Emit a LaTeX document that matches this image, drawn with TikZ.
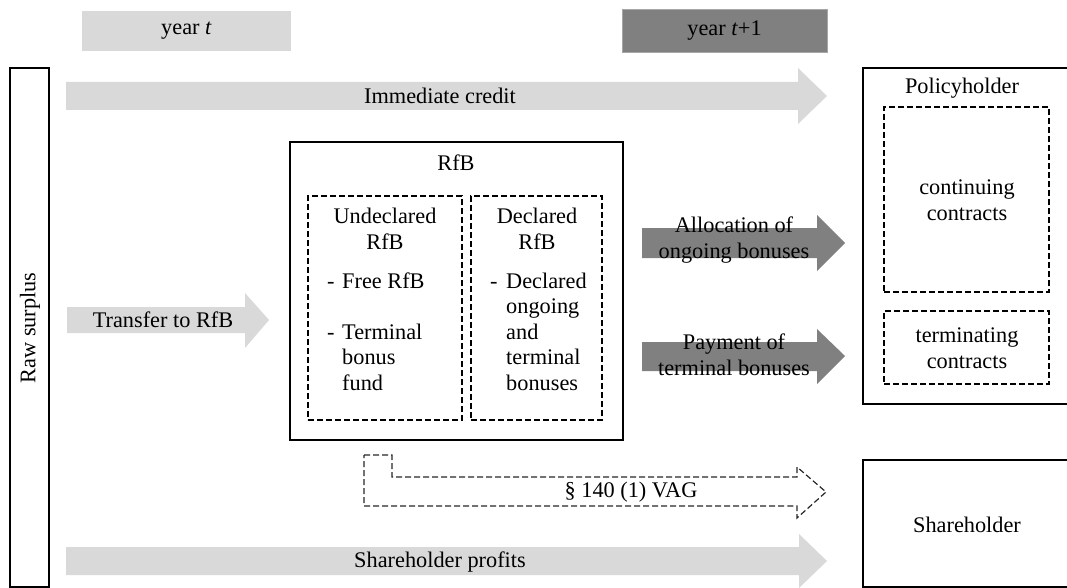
\documentclass[tikz,border=0pt]{standalone}
\usepackage{fontspec}
\setmainfont{Liberation Serif}
\definecolor{lgray}{HTML}{D9D9D9}
\definecolor{dgray}{HTML}{808080}
\begin{document}
\begin{tikzpicture}[x=1pt,y=-1pt,
  font=\fontsize{22.3}{25.5}\selectfont,
  txt/.style={inner sep=0pt, align=center},
  solidbox/.style={draw=black, line width=1.4pt, inner sep=0pt},
  dashbox/.style={draw=black, line width=1.2pt, dash pattern=on 6pt off 3pt, inner sep=0pt},
  lightarrow/.style={fill=lgray},
  darkarrow/.style={fill=dgray}]
\useasboundingbox (0,0) rectangle (1067,588);

% year labels
\node[fill=lgray, minimum width=209pt, minimum height=40pt, inner sep=0pt] (yt) at (186.5,31) {year \textit{t}};
\node[fill=dgray, draw=gray!70, line width=0.8pt, minimum width=205pt, minimum height=43pt, inner sep=0pt] (yt1) at (724.5,30.5) {year \textit{t}+1};

% raw surplus
\node[solidbox, minimum width=39pt, minimum height=519pt] (raw) at (29.5,327.5) {};
\node[txt, rotate=90] (rawlbl) at (30,328) {Raw surplus};

% block arrows
\fill[lightarrow] (66,82) -- (798,82) -- (798,68) -- (827,96) -- (798,124) -- (798,110) -- (66,110) -- cycle;
\node[txt] (imm) at (440,96) {Immediate credit};

\fill[lightarrow] (67,307) -- (245,307) -- (245,293) -- (269,320) -- (245,348) -- (245,333) -- (67,333) -- cycle;
\node[txt] (trans) at (163,320) {Transfer to RfB};

\fill[lightarrow] (66,547) -- (799,547) -- (799,534) -- (827,561) -- (799,588) -- (799,575) -- (66,575) -- cycle;
\node[txt] (shp) at (440,562) {Shareholder profits};

\fill[darkarrow] (642,228) -- (817,228) -- (817,215) -- (845,243) -- (817,271) -- (817,258) -- (642,258) -- cycle;
\node[txt] (alloc) at (734,240) {Allocation of\\ongoing bonuses};

\fill[darkarrow] (642,342) -- (817,342) -- (817,329) -- (845,356) -- (817,384) -- (817,371) -- (642,371) -- cycle;
\node[txt] (pay) at (734,355) {Payment of\\terminal bonuses};

% RfB box
\node[solidbox, minimum width=333pt, minimum height=298pt] (rfb) at (456.5,291) {};
\node[txt] (rfbt) at (456,163) {RfB};
\node[dashbox, minimum width=154pt, minimum height=224pt] (und) at (385,308) {};
\node[dashbox, minimum width=131pt, minimum height=224pt] (dec) at (536.5,308) {};
\node[txt] (undt) at (385,229) {Undeclared\\RfB};
\node[txt] (dect) at (537,229) {Declared\\RfB};
\node[inner sep=0pt, anchor=base west] (undl) at (327,288)
  {\begin{tabular}[t]{@{}l@{\hspace{7.6pt}}l@{}}-&Free RfB\\ &\\-&Terminal\\&bonus\\&fund\end{tabular}};
\node[inner sep=0pt, anchor=base west] (decl) at (490,288)
  {\begin{tabular}[t]{@{}l@{\hspace{8.6pt}}l@{}}-&Declared\\&ongoing\\&and\\&terminal\\&bonuses\end{tabular}};

% policyholder
\node[solidbox, minimum width=205pt, minimum height=336pt] (pol) at (965.5,236) {};
\node[txt] (polt) at (962,88) {Policyholder};
\node[dashbox, minimum width=165pt, minimum height=185pt] (cont) at (966.5,199.5) {};
\node[txt] (contt) at (967,200) {continuing\\contracts};
\node[dashbox, minimum width=165pt, minimum height=73pt] (term) at (966.5,347.5) {};
\node[txt] (termt) at (967,348) {terminating\\contracts};

% shareholder
\node[solidbox, minimum width=205pt, minimum height=127pt] (sh) at (965.5,523.5) {};
\node[txt] (sht) at (967,525) {Shareholder};

% dashed VAG arrow
\draw[line width=1.2pt, dash pattern=on 6pt off 3pt, draw=black!85]
  (364,455) -- (392,455) -- (392,477) -- (797,477) -- (797,467) -- (826,492) -- (797,518) -- (797,506) -- (364,506) -- cycle;
\node[txt] (vag) at (631,492) {\S\ 140 (1) VAG};
\end{tikzpicture}
\end{document}
